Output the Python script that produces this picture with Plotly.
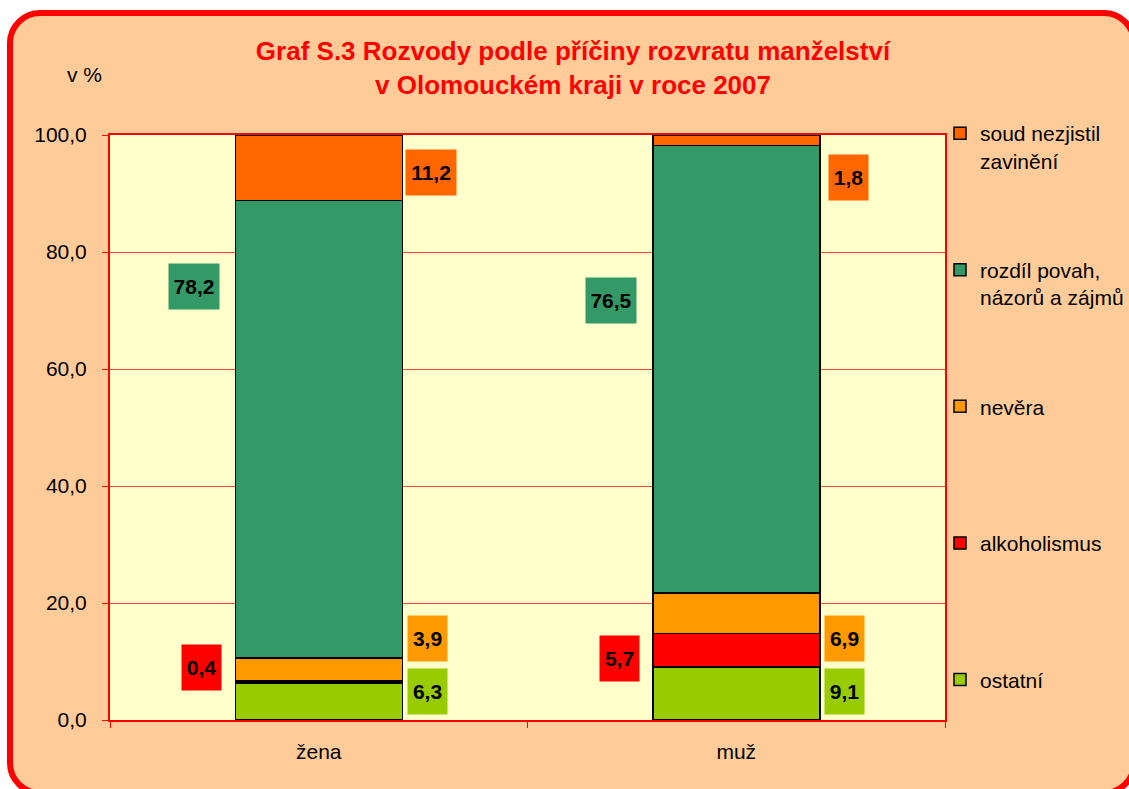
import plotly.graph_objects as go

# ---- data ----
categories = ["žena", "muž"]
series_names = ["ostatní", "alkoholismus", "nevěra",
                "rozdíl povah, názorů a zájmů", "soud nezjistil zavinění"]
ostatni = [6.3, 9.1]
alkoholismus = [0.4, 5.7]
nevera = [3.9, 6.9]
rozdil_povah = [78.2, 76.5]
soud_nezjistil = [11.2, 1.8]
series_values = [ostatni, alkoholismus, nevera, rozdil_povah, soud_nezjistil]
y_ticks = [0, 20, 40, 60, 80, 100]

# ---- styling / layout (not data) ----
colors = ["#99CC00", "#FF0000", "#FF9900", "#339966", "#FF6600"]
legend_text = ["ostatní<br>&nbsp;", "alkoholismus<br>&nbsp;", "nevěra<br>&nbsp;",
               "rozdíl povah,<br>názorů a zájmů", "soud nezjistil<br>zavinění"]
legend_rank = [5, 4, 3, 2, 1]
# manual label placement as in the original (side offset and vertical position)
label_side = [0.26, -0.28, 0.26, -0.30, 0.27]
label_y = [[4.8, 4.8], [8.9, 10.5], [13.9, 13.9], [74.1, 71.7], [93.6, 92.7]]

FONT = "Arial, Liberation Sans, sans-serif"
W, H = 1129, 789
ML, MR, MT, MB = 110, 184, 135, 69
PW, PH = W - ML - MR, H - MT - MB


def px2x(px):
    return (px - ML) / PW


def py2y(py):
    return (H - MB - py) / PH


fig = go.Figure()
for name, vals, col, lt, rk in zip(series_names, series_values, colors,
                                   legend_text, legend_rank):
    fig.add_trace(go.Bar(
        x=categories, y=vals, name=lt, legendgroup=name, legendrank=rk,
        marker=dict(color=col, line=dict(color="black", width=1.5)),
        width=0.4, hoverinfo="skip",
    ))

annotations = []
for si, (vals, col) in enumerate(zip(series_values, colors)):
    for ci, v in enumerate(vals):
        txt = f"{v:.1f}".replace(".", ",")
        annotations.append(dict(
            x=ci + label_side[si], y=label_y[si][ci], xref="x", yref="y",
            text=txt, showarrow=False, bgcolor=col, borderpad=0,
            width=50 if len(txt) > 3 else 39, height=45,
            font=dict(family=FONT, size=21, color="black", weight="bold"),
        ))
annotations.append(dict(
    x=px2x(84), y=py2y(75), xref="paper", yref="paper", text="v %",
    xanchor="center", yanchor="middle",
    showarrow=False, font=dict(family=FONT, size=21, color="black"),
))

# rounded frame
x0, x1 = px2x(10), px2x(1134)
y0, y1 = py2y(13), py2y(793)
rx, ry = 30 / PW, 30 / PH
k = 0.5523
path = (f"M{x0+rx},{y0} L{x1-rx},{y0} "
        f"C{x1-rx+k*rx},{y0} {x1},{y0-ry+k*ry} {x1},{y0-ry} "
        f"L{x1},{y1+ry} "
        f"C{x1},{y1+ry-k*ry} {x1-rx+k*rx},{y1} {x1-rx},{y1} "
        f"L{x0+rx},{y1} "
        f"C{x0+rx-k*rx},{y1} {x0},{y1+ry-k*ry} {x0},{y1+ry} "
        f"L{x0},{y0-ry} "
        f"C{x0},{y0-ry+k*ry} {x0+rx-k*rx},{y0} {x0+rx},{y0} Z")
shapes = [
    dict(type="path", path=path, xref="paper", yref="paper", layer="below",
         fillcolor="#FFCC99", line=dict(color="#FF0000", width=6)),
    dict(type="rect", x0=0, x1=1, y0=0, y1=1, xref="paper", yref="paper",
         layer="below", fillcolor="#FFFFCC", line=dict(width=0)),
]

fig.update_layout(
    width=W, height=H, autosize=False,
    margin=dict(l=ML, r=MR, t=MT, b=MB, autoexpand=False),
    paper_bgcolor="white", plot_bgcolor="rgba(0,0,0,0)",
    barmode="stack", separators=", ",
    font=dict(family=FONT, size=21, color="black"),
    title=dict(
        text="Graf S.3 Rozvody podle příčiny rozvratu manželství<br>v Olomouckém kraji v roce 2007",
        x=573 / W, xref="container", xanchor="center",
        y=1 - 60 / H, yref="container", yanchor="top",
        font=dict(family=FONT, size=26, color="#FF0000", weight="bold"),
    ),
    xaxis=dict(
        type="category", range=[-0.5, 1.5], showgrid=False,
        ticks="outside", tickson="boundaries", ticklen=6, tickcolor="#FF0000",
        ticklabelstandoff=12,
        showline=True, linecolor="#FF0000", linewidth=2, mirror=True,
        tickfont=dict(family=FONT, size=21, color="black"),
    ),
    yaxis=dict(
        range=[0, 100], tickvals=y_ticks, tickformat=".1f",
        ticks="outside", ticklen=6, tickcolor="#FF0000", ticklabelstandoff=11,
        showline=True, linecolor="#FF0000", linewidth=2, mirror=True,
        showgrid=True, gridcolor="#FF4A3A", gridwidth=1, zeroline=False,
        tickfont=dict(family=FONT, size=21, color="black"),
    ),
    legend=dict(
        x=px2x(940), xanchor="left", y=py2y(113), yanchor="top",
        traceorder="grouped", tracegroupgap=79, valign="top", maxheight=760,
        bgcolor="rgba(0,0,0,0)", font=dict(family=FONT, size=21, color="black"),
        itemwidth=30,
    ),
    annotations=annotations, shapes=shapes, showlegend=True,
)

fig.write_html(
    "out.html",
    config={"displayModeBar": False},
    post_script="document.body.style.margin='0';document.body.style.overflow='hidden';"
                "document.documentElement.style.overflow='hidden';",
)
